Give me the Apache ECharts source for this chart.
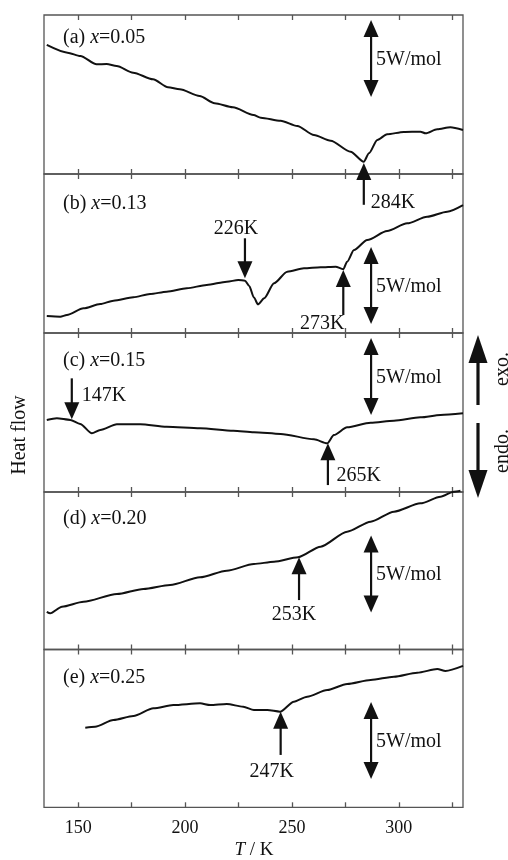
<!DOCTYPE html>
<html>
<head>
<meta charset="utf-8">
<script src="https://cdn.jsdelivr.net/npm/echarts@6/dist/echarts.min.js"></script>
<style>
html,body{margin:0;padding:0;background:#fff;}
#chart{width:508px;height:860px;}
</style>
</head>
<body>
<div id="chart"></div>
<script>
// ---------- data ----------
const xTicks = [150, 175, 200, 225, 250, 275, 300, 325];
const xTickLabels = [150, 200, 250, 300];
const panelNames = ['a', 'b', 'c', 'd', 'e'];
const panelX = ['0.05', '0.13', '0.15', '0.20', '0.25'];

// Heat flow curves: [T (K), heat flow (W/mol, arbitrary offset)]
const curveA = [[135.3,8.38],[145,7.88],[151,7.66],[158.6,7.12],[163.3,7.14],[168,7.01],[175.7,6.58],[185,6.15],[192,5.63],[197.5,5.50],[206.8,5.06],[213.8,4.59],[222.4,4.33],[232,3.83],[235.4,3.66],[244.7,3.46],[252.5,3.12],[260.3,2.53],[268.1,2.16],[277.4,1.45],[283.6,0.80],[286,1.34],[289.9,2.21],[294.5,2.58],[302.3,2.73],[310.1,2.75],[312.5,2.64],[317.9,2.90],[324.1,3.03],[330,2.86]];
const curveB = [[135.3,1.10],[141.6,1.06],[144.7,1.17],[152.5,1.60],[160.3,1.88],[166.5,2.10],[175.8,2.32],[183.6,2.53],[191.4,2.68],[200.8,2.90],[210.1,3.12],[219.5,3.33],[224.9,3.44],[228,3.40],[230,3.05],[232.2,2.30],[234.1,1.86],[237,2.25],[241.6,3.23],[247.8,3.98],[255.6,4.20],[263.4,4.27],[270.4,4.31],[274,4.14],[275.8,4.63],[279,5.39],[285.2,6.04],[294.5,6.62],[303.9,7.12],[313.2,7.55],[322.6,7.88],[330,8.31]];
const curveC = [[135.3,4.68],[140,4.79],[146.3,4.68],[150.9,4.42],[156.4,3.81],[160.3,4.03],[168.1,4.40],[179,4.40],[191.4,4.24],[207,4.14],[222.6,3.98],[232.2,3.88],[244.7,3.77],[260.3,3.42],[266.5,3.16],[269.6,3.70],[275.8,4.20],[286.8,4.50],[297.7,4.63],[310.1,4.85],[319.5,5.00],[330,5.11]];
const curveD = [[135.3,2.45],[136.9,2.35],[142.4,2.78],[152.5,3.10],[168.1,3.60],[180.5,3.93],[193,4.19],[207,4.69],[219.5,5.12],[232.2,5.55],[241.6,5.70],[252.8,5.99],[263.4,6.68],[275.8,7.65],[286.8,8.30],[297.7,8.95],[310.1,9.49],[319.5,9.92],[325.7,10.25],[328.8,10.31]];
const curveE = [[153.3,5.17],[157.9,5.23],[166.5,5.67],[175.8,5.93],[185.2,6.43],[194.5,6.64],[207,6.75],[211.7,6.64],[219.5,6.71],[227.2,6.53],[232.2,6.32],[238.5,6.32],[244.4,6.21],[250.9,6.86],[257.1,7.18],[266.5,7.62],[275.8,8.01],[286.8,8.27],[297.7,8.48],[308.6,8.74],[318,8.98],[321.8,8.85],[330,9.18]];

// Transition markers: [T, y of tail, y of tip]
const markA = [[283.6, -2.0, 0.71]];
const markB = [[228, 6.15, 3.55], [274, 1.17, 4.09]];
const markC = [[147, 7.38, 4.72], [266.8, 0.45, 3.16]];
const markD = [[253.3, 3.21, 5.99]];
const markE = [[244.7, 3.40, 6.21]];
const markLabelsA = ['284K'];
const markLabelsB = ['226K', '273K'];
const markLabelsC = ['147K', '265K'];
const markLabelsD = ['253K'];
const markLabelsE = ['247K'];

// 5 W/mol scale bars: [T, y low, y high]
const scaleA = [[287, 5.0, 10.0]];
const scaleB = [[287, 0.58, 5.58]];
const scaleC = [[287, 5.0, 10.0]];
const scaleD = [[287, 2.4, 7.4]];
const scaleE = [[287, 1.84, 6.84]];
const scaleLabel = '5W/mol';

// ---------- layout / style ----------
const curves = [curveA, curveB, curveC, curveD, curveE];
const marks = [markA, markB, markC, markD, markE];
const markLabels = [markLabelsA, markLabelsB, markLabelsC, markLabelsD, markLabelsE];
const scales = [scaleA, scaleB, scaleC, scaleD, scaleE];
// label offsets relative to arrow tail (px): dx, dy, align
const markLabelOffsets = [
  [[7, -2, 'left']],
  [[-9, -10, 'center'], [-21, 8.5, 'center']],
  [[10, 17.7, 'left'], [8.7, -9, 'left']],
  [[-5, 15, 'center']],
  [[-9, 16.7, 'center']]
];
const panelTops = [15, 174, 333, 492, 649.5];
const panelHeights = [159, 159, 159, 157.5, 157.8];
const panelLabelY = [39, 205, 361.7, 520, 678.3];
const pxPerUnit = 15.4;
const LEFT = 44, RIGHT_EDGE = 463;
const FONT = '"Liberation Serif", "DejaVu Serif", serif';
const INK = '#111';
const FRAME = '#555';

function arrowShapes(p1, p2, headLen, headW, lw, color, bothEnds) {
  // p1 tail, p2 tip
  const dx = p2[0] - p1[0], dy = p2[1] - p1[1];
  const L = Math.sqrt(dx * dx + dy * dy) || 1;
  const ux = dx / L, uy = dy / L, nx = -uy, ny = ux;
  const shapes = [];
  const head = (tip, dirx, diry) => ({
    type: 'polygon',
    shape: { points: [
      [tip[0], tip[1]],
      [tip[0] - dirx * headLen + nx * headW / 2, tip[1] - diry * headLen + ny * headW / 2],
      [tip[0] - dirx * headLen - nx * headW / 2, tip[1] - diry * headLen - ny * headW / 2]
    ] },
    style: { fill: color }
  });
  const s1 = bothEnds ? [p1[0] + ux * headLen * 0.8, p1[1] + uy * headLen * 0.8] : p1;
  const s2 = [p2[0] - ux * headLen * 0.8, p2[1] - uy * headLen * 0.8];
  shapes.push({ type: 'line', shape: { x1: s1[0], y1: s1[1], x2: s2[0], y2: s2[1] }, style: { stroke: color, lineWidth: lw } });
  shapes.push(head(p2, ux, uy));
  if (bothEnds) shapes.push(head(p1, -ux, -uy));
  return shapes;
}

const grids = [], xAxes = [], yAxes = [], series = [];
for (let i = 0; i < 5; i++) {
  grids.push({ left: LEFT, width: RIGHT_EDGE - LEFT, top: panelTops[i], height: panelHeights[i],
    show: true, borderColor: FRAME, borderWidth: 1.3, backgroundColor: 'transparent' });
  const isLast = i === 4;
  ['bottom', 'top'].forEach((pos) => {
    xAxes.push({
      type: 'value', gridIndex: i, position: pos, min: 134, max: 330,
      axisLine: { show: false },
      splitLine: { show: false },
      axisTick: { show: true, inside: true, length: 5, customValues: xTicks, lineStyle: { color: FRAME, width: 1.3 } },
      axisLabel: { show: isLast && pos === 'bottom', customValues: xTickLabels, margin: 12,
        fontFamily: FONT, fontSize: 18, color: INK }
    });
  });
  yAxes.push({ type: 'value', gridIndex: i, min: 0, max: panelHeights[i] / pxPerUnit,
    axisLine: { show: false }, axisTick: { show: false }, axisLabel: { show: false }, splitLine: { show: false } });

  series.push({
    type: 'line', xAxisIndex: 2 * i, yAxisIndex: i, data: curves[i], symbol: 'none',
    smooth: 0.25, smoothMonotone: 'x', clip: false,
    lineStyle: { color: INK, width: 2 }, silent: true, animation: false
  });

  const labs = markLabels[i], offs = markLabelOffsets[i];
  series.push({
    type: 'custom', xAxisIndex: 2 * i, yAxisIndex: i, data: marks[i], clip: false, silent: true, animation: false,
    renderItem: function (params, api) {
      const tail = api.coord([api.value(0), api.value(1)]);
      const tip = api.coord([api.value(0), api.value(2)]);
      const children = arrowShapes(tail, tip, 17, 15, 2.2, INK, false);
      const o = offs[params.dataIndex];
      children.push({ type: 'text', x: tail[0] + o[0], y: tail[1] + o[1],
        style: { text: labs[params.dataIndex], font: '20px ' + FONT, fill: INK, align: o[2], verticalAlign: 'middle' } });
      return { type: 'group', children: children };
    }
  });

  series.push({
    type: 'custom', xAxisIndex: 2 * i, yAxisIndex: i, data: scales[i], clip: false, silent: true, animation: false,
    renderItem: function (params, api) {
      const lo = api.coord([api.value(0), api.value(1)]);
      const hi = api.coord([api.value(0), api.value(2)]);
      const children = arrowShapes(lo, hi, 17, 15, 2.2, INK, true);
      children.push({ type: 'text', x: lo[0] + 5, y: (lo[1] + hi[1]) / 2 + 1,
        style: { text: scaleLabel, font: '20px ' + FONT, fill: INK, align: 'left', verticalAlign: 'middle' } });
      return { type: 'group', children: children };
    }
  });
}

const graphics = [];
for (let i = 0; i < 5; i++) {
  graphics.push({
    type: 'text', left: 63, top: panelLabelY[i] - 11, silent: true,
    style: {
      text: '{n|(' + panelNames[i] + ') }{i|x}{n|=' + panelX[i] + '}',
      rich: {
        n: { font: '20px ' + FONT, fill: INK },
        i: { font: 'italic 20px ' + FONT, fill: INK }
      }
    }
  });
}
graphics.push({ type: 'text', x: 20, y: 435, rotation: Math.PI / 2, silent: true,
  style: { text: 'Heat flow', font: '20px ' + FONT, fill: INK, align: 'center', verticalAlign: 'middle' } });
graphics.push({ type: 'text', x: 254, y: 850, silent: true,
  style: { text: '{i|T}{n| / K}', align: 'center', verticalAlign: 'middle',
    rich: { n: { font: '19px ' + FONT, fill: INK }, i: { font: 'italic 19px ' + FONT, fill: INK } } } });
// exo / endo arrows
graphics.push({ type: 'line', shape: { x1: 478, y1: 405, x2: 478, y2: 360 }, style: { stroke: INK, lineWidth: 3.2 }, silent: true });
graphics.push({ type: 'polygon', shape: { points: [[478, 335], [468.5, 363], [487.5, 363]] }, style: { fill: INK }, silent: true });
graphics.push({ type: 'line', shape: { x1: 478, y1: 423, x2: 478, y2: 473 }, style: { stroke: INK, lineWidth: 3.2 }, silent: true });
graphics.push({ type: 'polygon', shape: { points: [[478, 498], [468.5, 470], [487.5, 470]] }, style: { fill: INK }, silent: true });
graphics.push({ type: 'text', x: 503, y: 369, rotation: Math.PI / 2, silent: true,
  style: { text: 'exo.', font: '20px ' + FONT, fill: INK, align: 'center', verticalAlign: 'middle' } });
graphics.push({ type: 'text', x: 503, y: 451, rotation: Math.PI / 2, silent: true,
  style: { text: 'endo.', font: '20px ' + FONT, fill: INK, align: 'center', verticalAlign: 'middle' } });

const chart = echarts.init(document.getElementById('chart'), null, { renderer: 'canvas' });
chart.setOption({
  animation: false,
  backgroundColor: '#fff',
  grid: grids,
  xAxis: xAxes,
  yAxis: yAxes,
  series: series,
  graphic: graphics
});
</script>
</body>
</html>
